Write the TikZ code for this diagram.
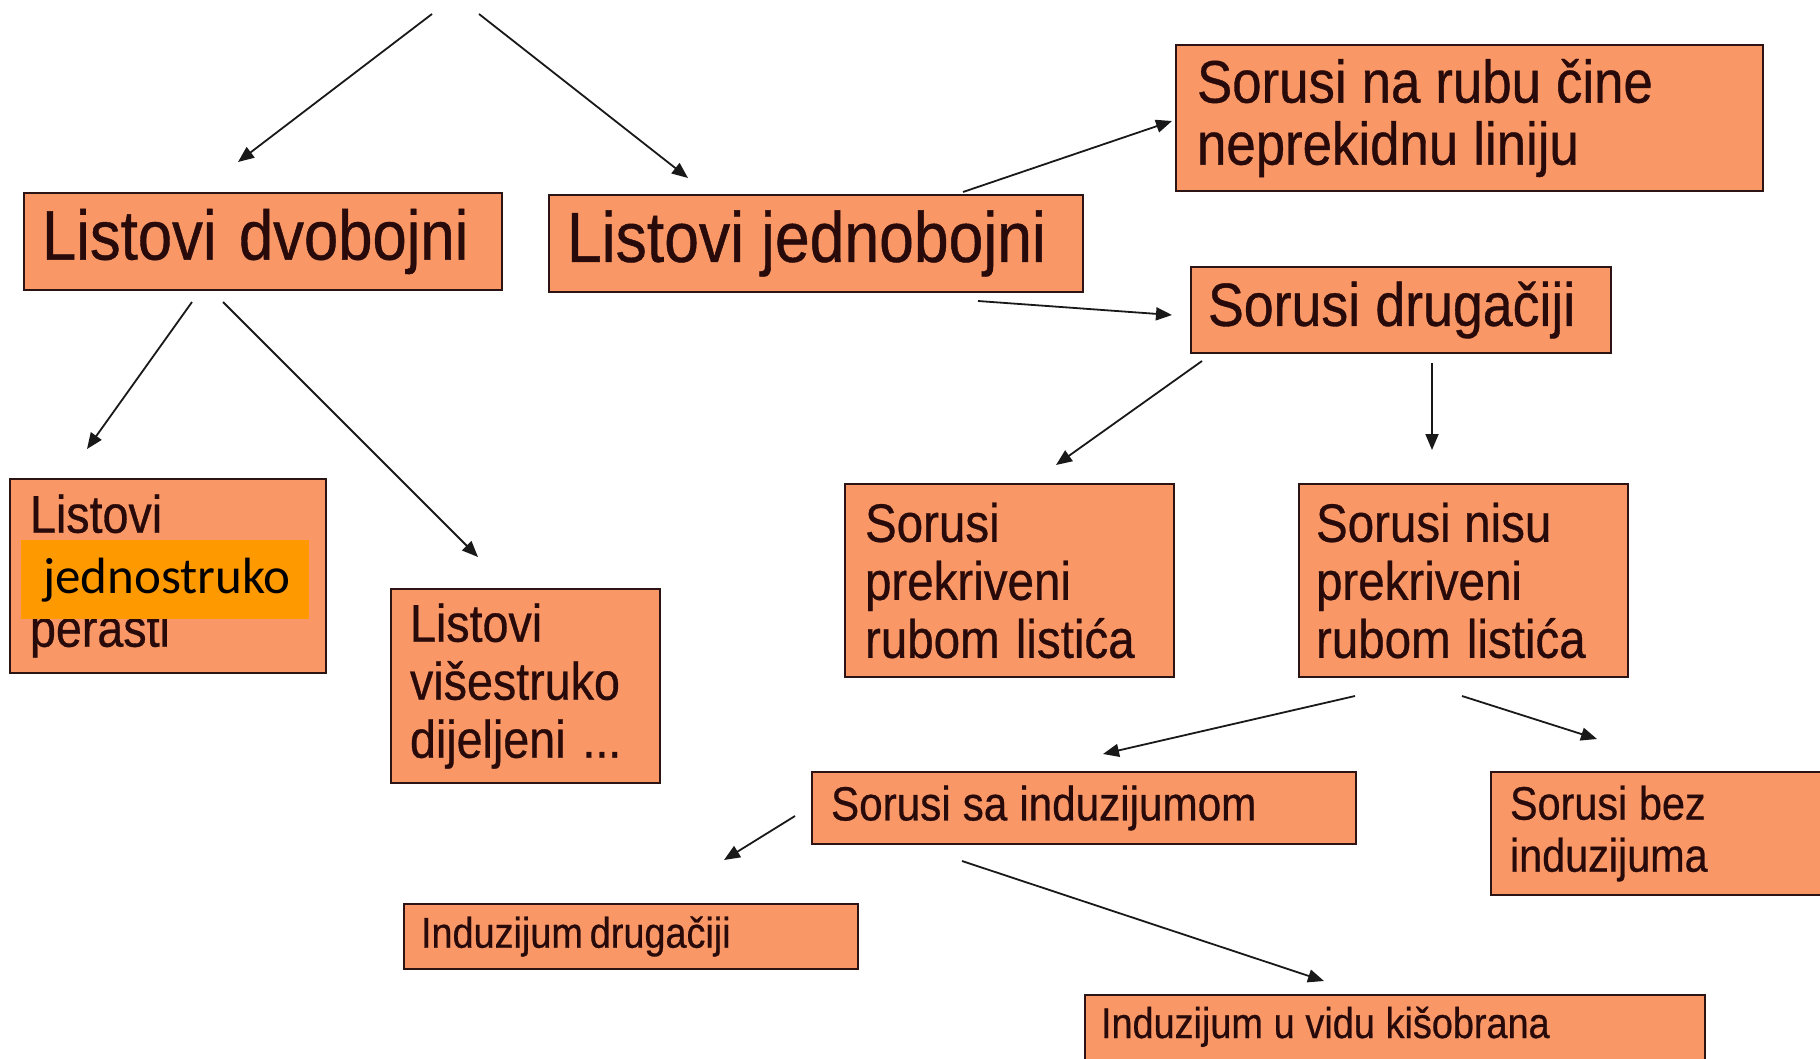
\documentclass[tikz,border=0pt]{standalone}
\usepackage{fontspec}
\setmainfont[FakeStretch=0.88, FakeBold=0.6]{Liberation Sans}
\newfontfamily\calfont{Carlito}
\usetikzlibrary{arrows.meta}
\definecolor{boxc}{RGB}{249,152,102}
\definecolor{overc}{RGB}{255,153,0}
\definecolor{borderc}{RGB}{45,20,20}
\definecolor{textc}{RGB}{40,10,10}
\definecolor{arrc}{RGB}{25,25,25}
\newcommand\myfs[2]{\fontsize{#1}{#2}\selectfont}
\begin{document}
\begin{tikzpicture}[x=1pt,y=-1pt,
  box/.style={draw=borderc, line width=2pt, fill=boxc, anchor=north west,
    inner ysep=0pt, align=left, text=textc,
    execute at begin node={\spaceskip=0.25em\relax}},
  arr/.style={draw=arrc, line width=1.8pt, -{Triangle[length=16pt,width=13pt]}}]
\useasboundingbox (0,0) rectangle (1820,1058);
\fill[white] (0,0) rectangle (1820,1058);
\clip (0,0) rectangle (1820,1058);

% boxes
\node[box, minimum width=478pt, minimum height=97pt, inner xsep=18pt, text width=442pt, font=\myfs{70}{80}] (dvob) at (23,192) {Listovi\hspace{0.32em}dvobojni};
\node[box, minimum width=534pt, minimum height=97pt, inner xsep=18pt, text width=498pt, font=\myfs{71}{80}] (jedn) at (548,194) {Listovi\hspace{0.24em}jednobojni};
\node[box, minimum width=587pt, minimum height=146pt, inner xsep=21pt, text width=545pt, font=\myfs{60}{62}] (rubu) at (1175,44) {Sorusi na rubu čine\\neprekidnu liniju};
\node[box, minimum width=420pt, minimum height=86pt, inner xsep=17pt, text width=386pt, font=\myfs{61}{68}] (drug) at (1190,266) {Sorusi drugačiji};
\node[box, minimum width=316pt, minimum height=194pt, inner xsep=20pt, text width=276pt, font=\myfs{53}{57}] (jednost) at (9,478) {Listovi\\\mbox{}\\perasti};
\node[anchor=north west, fill=overc, minimum width=288pt, minimum height=79pt, inner xsep=22pt, inner ysep=0pt, text width=244pt, align=left, font=\calfont\fontsize{51}{60}\selectfont] (ovl) at (21,540) {\raisebox{-4pt}{jednostruko}};
\node[box, minimum width=269pt, minimum height=194pt, inner xsep=19pt, text width=231pt, font=\myfs{53}{58}] (visestr) at (390,588) {Listovi\\višestruko\\dijeljeni\hspace{0.32em}...};
\node[box, minimum width=329pt, minimum height=193pt, inner xsep=20pt, text width=289pt, font=\myfs{54}{58}] (prekr) at (844,483) {Sorusi\\prekriveni\\rubom\hspace{0.3em}listića};
\node[box, minimum width=329pt, minimum height=193pt, inner xsep=17pt, text width=295pt, font=\myfs{54}{58}] (nisu) at (1298,483) {Sorusi nisu\\prekriveni\\rubom\hspace{0.3em}listića};
\node[box, minimum width=544pt, minimum height=72pt, inner xsep=19pt, text width=506pt, font=\myfs{48}{54}] (sainduz) at (811,771) {Sorusi sa induzijumom};
\node[box, minimum width=360pt, minimum height=123pt, inner xsep=19pt, text width=322pt, font=\myfs{47}{52}] (bezinduz) at (1490,771) {Sorusi bez\\induzijuma};
\node[box, minimum width=454pt, minimum height=65pt, inner xsep=17pt, text width=420pt, font=\myfs{43}{48}] (induzdrug) at (403,903) {Induzijum\hspace{0.16em}drugačiji};
\node[box, minimum width=620pt, inner xsep=16pt, inner ysep=14pt, text width=588pt, text height=29pt, text depth=80pt, font=\myfs{43}{48}] (kisobr) at (1084,994) {Induzijum u vidu kišobrana};

% arrow end points
\coordinate (a1s) at (432,14);  \coordinate (a1e) at (238,162);
\coordinate (a2s) at (479,14);  \coordinate (a2e) at (688,178);
\coordinate (a3s) at (192,302); \coordinate (a3e) at (87,449);
\coordinate (a4s) at (223,302); \coordinate (a4e) at (478,557);
\coordinate (a5s) at (963,192); \coordinate (a5e) at (1172,121);
\coordinate (a6s) at (978,301); \coordinate (a6e) at (1172,315);
\coordinate (a7s) at (1202,361); \coordinate (a7e) at (1056,465);
\coordinate (a8s) at (1432,363); \coordinate (a8e) at (1432,450);
\coordinate (a9s) at (1355,696); \coordinate (a9e) at (1103,754);
\coordinate (a10s) at (1462,696); \coordinate (a10e) at (1597,739);
\coordinate (a11s) at (795,816); \coordinate (a11e) at (724,860);
\coordinate (a12s) at (962,861); \coordinate (a12e) at (1324,981);

\draw[arr] (a1s) -- (a1e);
\draw[arr] (a2s) -- (a2e);
\draw[arr] (a3s) -- (a3e);
\draw[arr] (a4s) -- (a4e);
\draw[arr] (a5s) -- (a5e);
\draw[arr] (a6s) -- (a6e);
\draw[arr] (a7s) -- (a7e);
\draw[arr] (a8s) -- (a8e);
\draw[arr] (a9s) -- (a9e);
\draw[arr] (a10s) -- (a10e);
\draw[arr] (a11s) -- (a11e);
\draw[arr] (a12s) -- (a12e);
\end{tikzpicture}
\end{document}
